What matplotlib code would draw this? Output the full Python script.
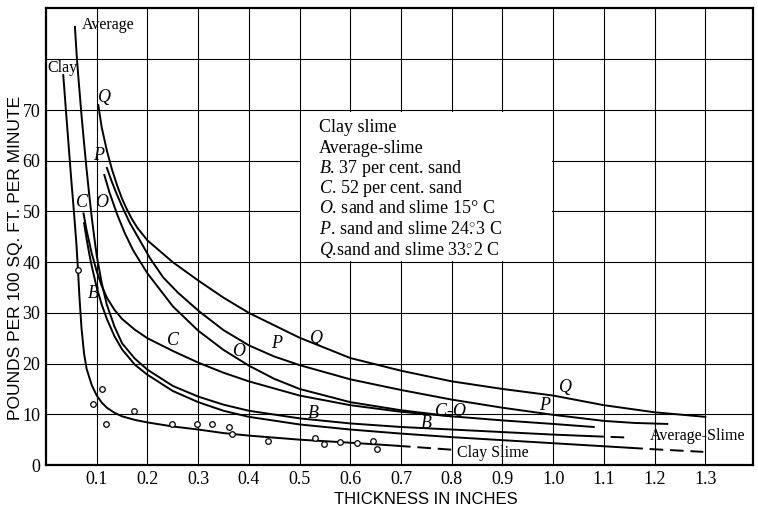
import matplotlib
matplotlib.use('Agg')
import matplotlib.pyplot as plt
from matplotlib.patches import Rectangle

plt.rcParams['font.family'] = ['Liberation Serif', 'DejaVu Serif']
plt.rcParams['mathtext.fontset'] = 'custom'
plt.rcParams['mathtext.rm'] = 'Liberation Serif'
plt.rcParams['mathtext.it'] = 'Liberation Serif:italic'

# ---- curves (thickness in inches, lb per 100 sq ft per minute)
q_x = [0.103, 0.11, 0.12, 0.13, 0.14, 0.15, 0.16, 0.17, 0.18, 0.2, 0.25, 0.3, 0.35, 0.4,
       0.5, 0.6, 0.7, 0.8, 0.9, 1.0, 1.1, 1.2, 1.3]
q_y = [71.0, 66.5, 62.0, 58.3, 55.2, 52.5, 50.3, 48.4, 46.8, 44.3, 40.0, 36.4, 33.0, 30.0,
       25.1, 21.1, 18.6, 16.5, 15.0, 13.7, 11.8, 10.4, 9.5]

p_x = [0.12, 0.13, 0.14, 0.15, 0.165, 0.185, 0.205, 0.231, 0.26, 0.302, 0.35, 0.4, 0.45,
       0.5, 0.6, 0.7, 0.8, 0.9, 1.0, 1.1, 1.16, 1.225]
p_y = [58.6, 55.8, 53.3, 51.0, 47.8, 44.3, 40.8, 37.0, 34.0, 30.3, 26.6, 23.6, 21.4,
       19.7, 16.9, 14.8, 12.9, 11.3, 9.9, 8.7, 8.3, 8.1]

o_x = [0.115, 0.125, 0.14, 0.155, 0.172, 0.2, 0.25, 0.3, 0.35, 0.4, 0.45, 0.5, 0.6, 0.7,
       0.8, 0.9, 1.0, 1.08]
o_y = [57.2, 53.8, 49.5, 45.8, 42.3, 37.8, 31.3, 26.5, 22.7, 19.6, 17.0, 15.0, 12.4, 10.8,
       9.6, 8.8, 8.1, 7.5]

c_x = [0.074, 0.08, 0.09, 0.1, 0.11, 0.12, 0.135, 0.15, 0.175, 0.2, 0.25, 0.3, 0.35, 0.4,
       0.5, 0.6, 0.7, 0.8]
c_y = [49.6, 46.3, 41.8, 38.2, 35.3, 33.0, 30.6, 28.8, 26.7, 25.0, 22.5, 20.2, 18.2, 16.5,
       13.7, 11.8, 10.5, 9.6]

avg_x = [0.057, 0.061, 0.065, 0.07, 0.075, 0.08, 0.085, 0.09, 0.095, 0.1, 0.11, 0.12, 0.135,
         0.15, 0.175, 0.2, 0.25, 0.3, 0.35, 0.4, 0.5, 0.6, 0.7, 0.8, 0.9, 1.0, 1.073]
avg_y = [86.4, 80.0, 75.0, 69.0, 63.5, 58.3, 53.5, 49.0, 45.0, 41.3, 35.8, 31.6, 27.3,
         24.0, 21.0, 18.8, 15.6, 13.5, 11.9, 10.7, 9.2, 8.2, 7.5, 7.0, 6.5, 6.0, 5.7]
avg_dash_x = [1.073, 1.152]
avg_dash_y = [5.7, 5.4]

b_x = [0.075, 0.08, 0.085, 0.09, 0.1, 0.11, 0.12, 0.135, 0.15, 0.175, 0.2, 0.25, 0.3, 0.35,
       0.4, 0.5, 0.6, 0.7, 0.8, 0.9, 1.0, 1.1, 1.15]
b_y = [47.7, 44.6, 41.8, 39.3, 35.0, 31.6, 28.8, 25.4, 22.8, 19.8, 17.8, 14.6, 12.4, 10.7,
       9.5, 8.0, 7.0, 6.2, 5.5, 4.9, 4.3, 3.7, 3.4]
b_dash_x = [1.15, 1.2, 1.296]
b_dash_y = [3.4, 3.1, 2.6]

clay_x = [0.034, 0.04, 0.045, 0.05, 0.055, 0.06, 0.063, 0.066, 0.07, 0.075, 0.08, 0.09, 0.1,
          0.11, 0.12, 0.135, 0.15, 0.175, 0.2, 0.25, 0.3, 0.35, 0.4, 0.5, 0.6, 0.692]
clay_y = [76.9, 69.0, 62.5, 56.0, 50.0, 43.5, 38.5, 33.0, 27.0, 22.0, 19.0, 15.8, 13.7,
          12.3, 11.3, 10.3, 9.6, 8.9, 8.4, 7.6, 7.0, 6.3, 5.8, 5.0, 4.4, 3.8]
clay_dash_x = [0.692, 0.803]
clay_dash_y = [3.8, 3.0]

# observed clay slime points
pts_x = [0.0625, 0.092, 0.111, 0.118, 0.174, 0.249, 0.297, 0.327, 0.36, 0.367,
         0.438, 0.531, 0.548, 0.58, 0.613, 0.645, 0.653]
pts_y = [38.5, 12.0, 15.0, 8.1, 10.7, 8.1, 8.1, 8.1, 7.5, 6.1,
         4.7, 5.3, 4.1, 4.5, 4.3, 4.7, 3.2]

x_ticks = [0.1, 0.2, 0.3, 0.4, 0.5, 0.6, 0.7, 0.8, 0.9, 1.0, 1.1, 1.2, 1.3]
x_labels = ['0.1', '0.2', '0.3', '0.4', '0.5', '0.6', '0.7', '0.8', '0.9', '1.0', '1.1', '1.2', '1.3']
y_ticks = [0, 10, 20, 30, 40, 50, 60, 70, 80]
y_labels = ['0', '10', '20', '30', '40', '50', '60', '70', '']

legend_lines = ['Clay slime',
                'Average-slime',
                r'$\mathit{B}$. 37 per cent. sand',
                r'$\mathit{C}$. 52 per cent. sand',
                r'$\mathit{O}$. sand and slime 15° C',
                r'$\mathit{P}$. sand and slime 24$\overset{\circ}{.}$3 C',
                r'$\mathit{Q}$.sand and slime 33$\overset{\circ}{.}$2 C']

fig = plt.figure(figsize=(7.58, 5.09), dpi=100)
ax = fig.add_axes([0.0607, 0.0864, 0.9327, 0.8976])
ax.set_xlim(0, 1.394)
ax.set_ylim(0, 90.1)

ax.set_xticks(x_ticks)
ax.set_xticklabels(x_labels, fontsize=13)
ax.set_yticks(y_ticks)
ax.set_yticklabels(y_labels, fontsize=13)
ax.tick_params(length=0, pad=4)
ax.grid(True, color='black', linewidth=0.8)
ax.set_axisbelow(True)
for s in ax.spines.values():
    s.set_linewidth(1.6)

# blank cell holding the key
ax.add_patch(Rectangle((0.503, 40.3), 0.494, 29.4, facecolor='white', edgecolor='none', zorder=1.5))
for i, t in enumerate(legend_lines):
    ax.text(0.538, 66.5 - i * 4.0, t, fontsize=13, va='center', ha='left', zorder=3)

lw = 1.4
for xs, ys in [(q_x, q_y), (p_x, p_y), (o_x, o_y), (c_x, c_y), (avg_x, avg_y), (b_x, b_y), (clay_x, clay_y)]:
    ax.plot(xs, ys, color='black', linewidth=lw, zorder=2)
for xs, ys in [(avg_dash_x, avg_dash_y), (b_dash_x, b_dash_y), (clay_dash_x, clay_dash_y)]:
    ax.plot(xs, ys, color='black', linewidth=lw, linestyle=(0, (7, 3.5)), zorder=2)
ax.plot(pts_x, pts_y, 'o', markersize=4, markerfacecolor='white', markeredgecolor='black',
        markeredgewidth=0.9, zorder=3)

# curve labels
it = dict(fontsize=13, style='italic', ha='center', va='center', zorder=3)
ax.text(0.071, 86.8, 'Average', fontsize=11.5, ha='left', va='center')
ax.text(0.002, 78.3, 'Clay', fontsize=11.5, ha='left', va='center')
ax.text(0.115, 72.4, 'Q', **it)
ax.text(0.103, 61.1, 'P', **it)
ax.text(0.071, 51.7, 'C', **it)
ax.text(0.11, 51.7, 'O', **it)
ax.text(0.093, 33.9, 'B', **it)
ax.text(0.25, 24.5, 'C', **it)
ax.text(0.379, 22.3, 'O', **it)
ax.text(0.455, 24.0, 'P', **it)
ax.text(0.534, 25.0, 'Q', **it)
ax.text(0.527, 10.2, 'B', **it)
ax.text(0.75, 8.2, 'B', **it)
ax.text(0.797, 10.5, 'C-O', **it)
ax.text(0.984, 11.8, 'P', **it)
ax.text(1.024, 15.2, 'Q', **it)
ax.text(1.19, 5.7, 'Average-Slime', fontsize=11.5, ha='left', va='center')
ax.text(0.81, 2.4, 'Clay Slime', fontsize=11.5, ha='left', va='center')

fig.text(16 / 758, 1 - 258 / 509, 'POUNDS PER 100 SQ. FT. PER MINUTE', rotation=90,
         ha='center', va='center', fontsize=12.5, family='Liberation Sans')
fig.text(426 / 758, 1 - 500 / 509, 'THICKNESS IN INCHES', ha='center', va='center',
         fontsize=12, family='Liberation Sans')

fig.savefig('out.png', dpi=100)
